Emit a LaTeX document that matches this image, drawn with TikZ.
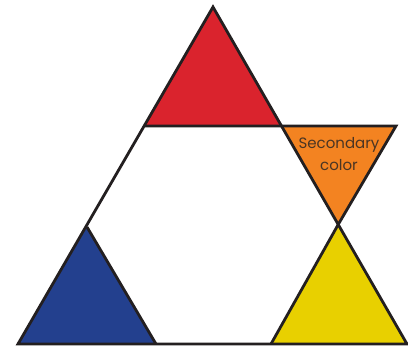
\documentclass[tikz,border=0pt]{standalone}
\usepackage{fontspec}
\setmainfont{Poppins}
\definecolor{cred}{HTML}{DA232D}
\definecolor{corange}{HTML}{F38321}
\definecolor{cblue}{HTML}{23408E}
\definecolor{cyellow}{HTML}{E8D000}
\definecolor{cline}{HTML}{231F20}
\definecolor{ctext}{HTML}{4A3524}
\begin{document}
\begin{tikzpicture}[x=1pt,y=-1pt,
  tri/.style={draw=cline,line width=2.8pt,line join=miter},
  lbl/.style={text=ctext,font=\fontsize{15}{22}\selectfont,align=center,inner sep=0pt}]
\useasboundingbox (0,0) rectangle (408,350);
% vertices
\coordinate (A) at (213,7);
\coordinate (RL) at (145,126);
\coordinate (RR) at (282,126);
\coordinate (OR) at (396,126);
\coordinate (OB) at (338.5,224);
\coordinate (BA) at (87,227);
\coordinate (BL) at (18,344);
\coordinate (BR) at (156,344);
\coordinate (YL) at (271,344);
\coordinate (YR) at (407,344);
% fills
\fill[cred] (A) -- (RL) -- (RR) -- cycle;
\fill[corange] (RR) -- (OR) -- (OB) -- cycle;
\fill[cblue] (BA) -- (BL) -- (BR) -- cycle;
\fill[cyellow] (OB) -- (YL) -- (YR) -- cycle;
% outlines
\draw[tri] (A) -- (BL) -- (YR) -- cycle;
\draw[tri] (RL) -- (OR) -- (OB) -- (YL);
\draw[tri] (BA) -- (BR);
\node[lbl] (sec) at (339,154) {Secondary\\color};
\end{tikzpicture}
\end{document}
